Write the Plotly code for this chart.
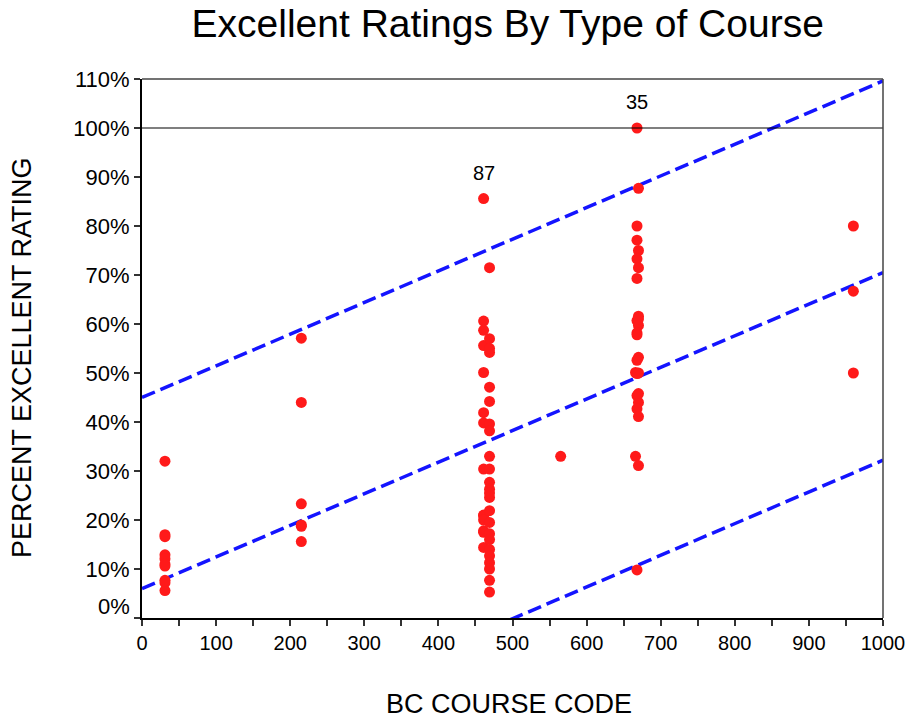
import plotly.graph_objects as go

# ---- data ----
codes_31 = [31] * 10
pct_31 = [32.0, 17.0, 16.6, 12.9, 12.1, 11.0, 10.6, 7.7, 7.2, 5.6]

codes_215 = [215] * 6
pct_215 = [57.1, 44.0, 23.3, 19.0, 18.7, 15.6]

codes_461 = [461] * 14
pct_461 = [85.6, 60.6, 58.7, 55.6, 50.1, 41.9, 39.8, 30.4, 20.9, 17.8, 14.4, 21.0, 20.0, 17.5]

codes_469 = [469] * 24
pct_469 = [71.5, 57.0, 54.2, 47.1, 44.2, 39.6, 38.2, 33.0, 30.4, 27.7, 26.3, 24.6,
           21.9, 19.5, 17.2, 14.0, 12.7, 11.3, 10.0, 7.7, 5.3, 55.0, 25.5, 16.0]

codes_565 = [565]
pct_565 = [33.0]

codes_668 = [668, 670, 668, 668, 670, 668, 670, 668, 670, 668, 670, 668, 670, 668,
             666, 670, 668, 668, 670, 668, 670, 666, 670, 668, 670, 668, 670]
pct_668 = [100.0, 87.7, 80.0, 77.1, 75.0, 73.3, 71.5, 69.3, 61.6, 60.7, 59.7, 58.2,
           53.2, 52.6, 50.1, 50.0, 49.9, 45.4, 44.0, 42.7, 41.1, 33.0, 31.1, 9.8,
           61.0, 57.8, 45.8]

codes_960 = [960] * 3
pct_960 = [80.0, 66.7, 50.0]

course_code = codes_31 + codes_215 + codes_461 + codes_469 + codes_565 + codes_668 + codes_960
pct_excellent = pct_31 + pct_215 + pct_461 + pct_469 + pct_565 + pct_668 + pct_960

reg_x = [0, 1000]
reg_mid = [6.0, 70.5]
reg_upper = [45.0, 109.6]
reg_lower = [-32.5, 32.2]

label_codes = [461, 668]
label_pcts = [85.6, 100.0]
label_texts = ["87", "35"]

x_ticks = list(range(0, 1001, 100))
y_ticks = list(range(0, 111, 10))
y_ticktext = [""] + [f"{v}%" for v in y_ticks[1:]]

FONT = "Liberation Sans, Arial, sans-serif"
BLUE = "#1414ff"

fig = go.Figure()
for ys in (reg_upper, reg_mid, reg_lower):
    fig.add_trace(go.Scatter(x=reg_x, y=ys, mode="lines",
                             line=dict(color=BLUE, width=3.5, dash="14px,6px"),
                             hoverinfo="skip", showlegend=False))
fig.add_trace(go.Scatter(x=course_code, y=pct_excellent, mode="markers",
                         marker=dict(color="#ff1a1a", size=11, line=dict(width=0)),
                         showlegend=False))

# point labels
for xc, yc, t in zip(label_codes, label_pcts, label_texts):
    fig.add_annotation(x=xc, y=yc, text=t, showarrow=False, yshift=26,
                       font=dict(family=FONT, size=20, color="black"))

# 0% label sits a little above the axis bottom
fig.add_annotation(x=0, y=0, xref="paper", yref="y", text="0%", showarrow=False,
                   xanchor="right", xshift=-10, yshift=12,
                   font=dict(family=FONT, size=22, color="black"))

# axis titles
fig.add_annotation(x=0.495, y=-0.191, xref="paper", yref="paper", text="BC COURSE CODE",
                   showarrow=False, xanchor="center", yanchor="bottom",
                   font=dict(family=FONT, size=27, color="black"))
fig.add_annotation(x=-0.162, y=0.484, xref="paper", yref="paper",
                   text="PERCENT EXCELLENT RATING", textangle=-90,
                   showarrow=False, xanchor="center", yanchor="middle",
                   font=dict(family=FONT, size=27, color="black"))

# frame lines: 100% reference, top and right borders
fig.add_shape(type="line", xref="paper", yref="y", x0=0, x1=1, y0=100, y1=100,
              line=dict(color="black", width=1.2))
fig.add_shape(type="line", xref="paper", yref="paper", x0=0, x1=1, y0=1, y1=1,
              line=dict(color="#444444", width=1.5))
fig.add_shape(type="line", xref="paper", yref="paper", x0=1, x1=1, y0=0, y1=1,
              line=dict(color="#444444", width=1.5))

fig.update_layout(
    width=905, height=721,
    margin=dict(l=142, r=22, t=79, b=103, autoexpand=False),
    paper_bgcolor="white", plot_bgcolor="white",
    title=dict(text="Excellent Ratings By Type of Course", x=0.561, xanchor="center",
               y=0.967, yanchor="middle",
               font=dict(family=FONT, size=39, color="black")),
    font=dict(family=FONT, color="black"),
    xaxis=dict(range=[0, 1000], tickvals=x_ticks, showgrid=False, zeroline=False,
               automargin=False,
               showline=True, linecolor="black", linewidth=2, ticklabeloverflow="allow",
               ticks="outside", ticklen=6, tickwidth=1.5, tickcolor="#333",
               minor=dict(dtick=50, ticks="outside", ticklen=6, tickwidth=1.5, tickcolor="#333"),
               tickfont=dict(family=FONT, size=20, color="black")),
    yaxis=dict(range=[0, 110], tickvals=y_ticks, ticktext=y_ticktext, showgrid=False,
               automargin=False,
               zeroline=False, showline=True, linecolor="black", linewidth=2,
               ticks="outside", ticklen=6, tickwidth=1.5, tickcolor="#333",
               tickfont=dict(family=FONT, size=22, color="black")),
)

# remove the browser's default 8px body margin so the figure fills the window
fig.write_html("out.html",
               config={"displayModeBar": False},
               post_script="document.body.style.margin='0';document.body.style.overflow='hidden';")
